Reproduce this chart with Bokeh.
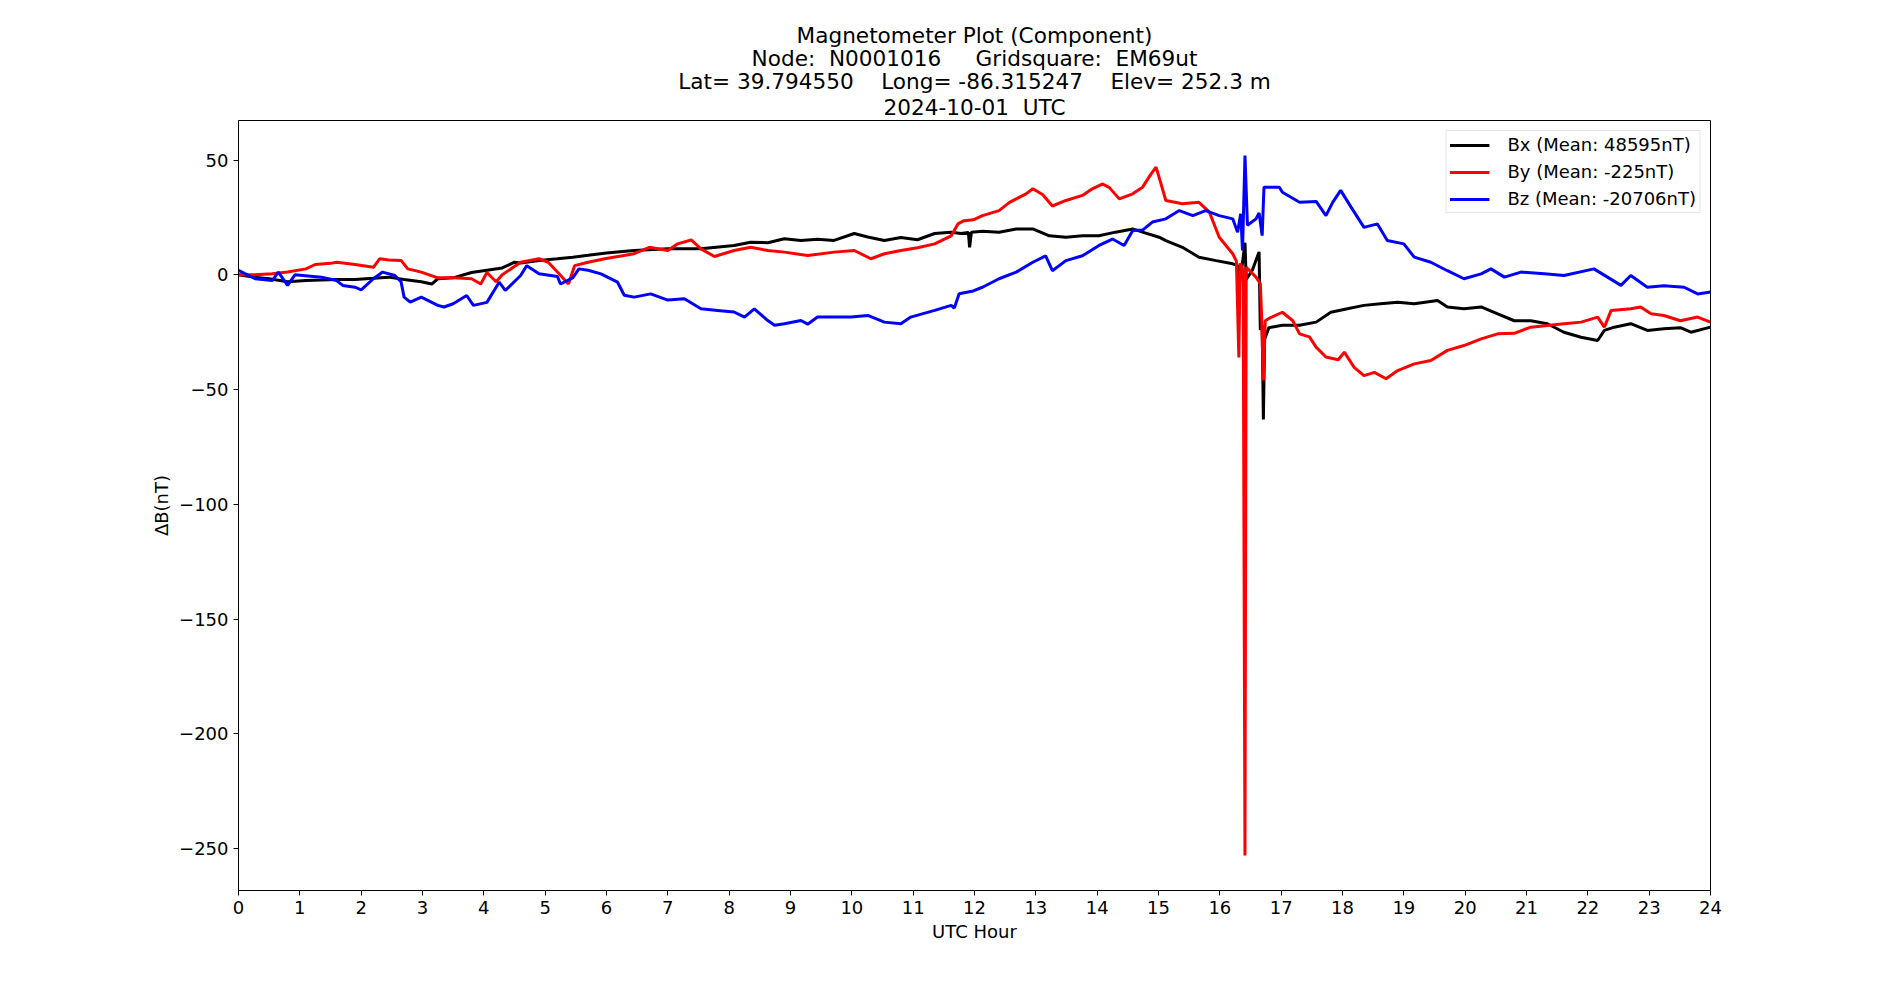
from bokeh.plotting import figure
from bokeh.models import FixedTicker, Range1d, Legend, LegendItem, Title
from bokeh.embed import file_html
from bokeh.resources import INLINE

FONT = "DejaVu Sans"
NB = "\u00a0"  # keeps runs of spaces in the title lines

# --- data: magnetometer deltas (nT) against UTC hour -------------------------
bx_hour = [0.0, 0.25, 0.5, 0.8, 1.1, 1.35, 1.6, 1.9, 2.2, 2.45, 2.7, 2.98, 3.15, 3.25, 3.5, 3.8,
           4.05, 4.3, 4.5, 4.6, 4.9, 5.2, 5.45, 5.7, 6.0, 6.45, 7.0, 7.54, 8.08, 8.35, 8.63, 8.9,
           9.17, 9.44, 9.71, 10.04, 10.26, 10.53, 10.8, 11.07, 11.35, 11.62, 11.78, 11.9, 11.92,
           11.95, 12.13, 12.4, 12.68, 12.95, 13.22, 13.49, 13.76, 14.03, 14.3, 14.58, 14.74,
           15.01, 15.12, 15.39, 15.66, 15.94, 16.21, 16.29, 16.32, 16.36, 16.41, 16.43, 16.53,
           16.64, 16.66, 16.69, 16.71, 16.73, 16.8, 17.02, 17.3, 17.57, 17.81, 18.08, 18.35,
           18.62, 18.9, 19.17, 19.55, 19.71, 19.98, 20.26, 20.53, 20.8, 21.07, 21.34, 21.61,
           21.89, 22.16, 22.27, 22.43, 22.7, 22.97, 23.24, 23.51, 23.68, 24.0]
bx_val = [0, -1, -1.7, -3, -2.5, -2.3, -2, -2, -1.5, -1, -2, -3, -4, -1.7, -1.3, 1,
          2, 3, 5.5, 5.2, 6.2, 7, 7.7, 8.5, 9.5, 10.6, 11.4, 11.4, 12.8, 14.2, 14, 15.7,
          15, 15.5, 15, 18, 16.5, 15, 16.3, 15.3, 18, 18.6, 18, 18.5, 12,
          18.6, 19, 18.6, 20, 20, 17, 16.4, 17, 17, 18.6, 20, 18.6,
          16.4, 14.9, 12, 7.7, 6.2, 4.8, 4, -3.9, 3.3, 14, -2, 2,
          10, -24, -22, -63, -28, -23, -22, -22, -20.6, -16.3, -14.8, -13.3,
          -12.6, -11.9, -12.6, -11.2, -14, -14.8, -14, -17, -20, -20, -21.3, -25,
          -27.2, -28.6, -24.2, -22.8, -21.3, -24.2, -23.5, -23, -25, -22.8]

by_hour = [0.0, 0.27, 0.55, 0.8, 1.1, 1.25, 1.5, 1.6, 1.9, 2.2, 2.3, 2.45, 2.65, 2.76, 2.98,
           3.25, 3.5, 3.8, 3.95, 4.05, 4.2, 4.3, 4.6, 4.9, 5.05, 5.2, 5.38, 5.48, 5.7, 5.97,
           6.45, 6.7, 7.0, 7.16, 7.38, 7.54, 7.76, 8.08, 8.35, 8.63, 8.9, 9.28, 9.71, 10.04,
           10.31, 10.53, 10.8, 11.07, 11.35, 11.62, 11.73, 11.83, 11.98, 12.13, 12.4, 12.57,
           12.84, 12.95, 13.11, 13.27, 13.49, 13.76, 13.92, 14.09, 14.2, 14.36, 14.58, 14.74,
           14.88, 14.96, 15.01, 15.12, 15.39, 15.66, 15.83, 15.99, 16.21, 16.27, 16.31, 16.33,
           16.38, 16.41, 16.43, 16.59, 16.66, 16.68, 16.71, 16.74, 16.8, 17.02, 17.19, 17.3,
           17.46, 17.57, 17.73, 17.93, 18.03, 18.19, 18.35, 18.52, 18.71, 18.9, 19.17, 19.44,
           19.71, 19.98, 20.26, 20.53, 20.8, 21.07, 21.34, 21.61, 21.89, 22.16, 22.27, 22.38,
           22.7, 22.86, 23.03, 23.24, 23.51, 23.79, 24.0]
by_val = [0, 0, 0.5, 1.2, 2.6, 4.5, 5, 5.5, 4.5, 3.3, 7, 6.5, 6.3, 2.6, 1.2,
          -1.3, -1.3, -1.7, -4, 1, -3, 0, 5.5, 7, 5.5, 1.2, -4, 4, 5.5, 7,
          9.2, 12, 10.6, 13.5, 15.2, 11.3, 8, 10.6, 12, 10.6, 9.9, 8.4, 9.9, 10.6,
          7, 9.2, 10.6, 11.8, 13.5, 17, 22.2, 23.6, 24, 25.8, 28, 31.6,
          35.3, 37.5, 35, 30, 32.4, 34.6, 37.5, 39.6, 38, 33.1, 35.3, 38.2,
          44, 46.9, 42.5, 32.4, 31, 31.6, 27.3, 16.4, 9.2, 6, -36, 5,
          2, -253, 3.3, -1, -3.9, -17, -46, -20, -19, -16.3, -20, -25.7,
          -27, -31.5, -35.8, -37, -33.7, -40.3, -43.9, -42.5, -45.3, -41.7, -38.8, -37.3,
          -32.9, -30.8, -27.9, -25.7, -25.5, -22.8, -22.1, -21.3, -20.6, -18.4, -22.8, -15.5,
          -14.8, -14, -17, -17.7, -20, -18.4, -20.6]

bz_hour = [0.0, 0.27, 0.55, 0.65, 0.8, 0.92, 1.35, 1.6, 1.7, 1.9, 2.0, 2.2, 2.35, 2.55, 2.65,
           2.7, 2.8, 2.98, 3.25, 3.35, 3.5, 3.72, 3.83, 4.05, 4.25, 4.35, 4.6, 4.7, 4.9, 5.2,
           5.25, 5.45, 5.55, 5.7, 5.91, 6.18, 6.29, 6.45, 6.72, 7.0, 7.27, 7.54, 7.81, 8.08,
           8.25, 8.41, 8.63, 8.74, 8.9, 9.17, 9.28, 9.44, 9.71, 9.99, 10.26, 10.53, 10.8, 10.96,
           11.35, 11.62, 11.67, 11.75, 11.98, 12.13, 12.4, 12.68, 12.95, 13.16, 13.27, 13.49,
           13.76, 14.03, 14.25, 14.44, 14.58, 14.74, 14.9, 15.12, 15.34, 15.56, 15.77, 15.99,
           16.21, 16.29, 16.34, 16.37, 16.41, 16.45, 16.59, 16.64, 16.69, 16.72, 16.97, 17.02,
           17.3, 17.57, 17.73, 17.84, 17.97, 18.14, 18.35, 18.57, 18.73, 19.0, 19.17, 19.44,
           19.71, 19.98, 20.26, 20.42, 20.64, 20.91, 21.29, 21.61, 22.1, 22.32, 22.54, 22.7,
           22.97, 23.24, 23.57, 23.79, 24.0]
bz_val = [2, -1.7, -2.5, 1.2, -4.6, 0, -1, -2.5, -4.6, -5.4, -6.5, -1.7, 1.2, -0.3, -3,
          -9.7, -11.9, -9.7, -13.3, -14, -12.6, -9, -13.3, -12, -3.2, -6.8, -0.3, 4, 0.5, -0.7,
          -4, -1.3, 2.6, 2, 0.4, -3.2, -8.9, -9.7, -8.3, -11, -10.4, -14.8, -15.5, -16.2,
          -18.4, -14.8, -19.9, -22, -21.3, -19.9, -21.5, -18.4, -18.4, -18.4, -17.7, -20.6, -21.3, -18.4,
          -15.5, -13.3, -14.5, -8.2, -7, -5.4, -1.7, 1.2, 5.5, 8.3, 1.8, 6.2,
          8.3, 12.8, 15.6, 12.8, 19.3, 19.5, 23, 24.4, 28, 25.8, 28, 25.8,
          24.4, 18.6, 26.6, 10.6, 52, 21.6, 24.4, 27, 17.1, 38.2, 38.2, 36,
          31.6, 32, 25.8, 31.6, 36.8, 29.5, 20.7, 22.2, 15, 13.5, 7.7, 5.5,
          1.8, -1.7, 0.4, 2.6, -1, 1.2, 0.5, -0.3, 2.6, -1, -4.6, -0.3,
          -5.4, -4.8, -5.4, -8.3, -7.5]

series_labels = ["Bx (Mean: 48595nT)", "By (Mean: -225nT)", "Bz (Mean: -20706nT)"]
series_colors = ["black", "red", "blue"]

title_lines = [
    "Magnetometer Plot (Component)",
    "Node:  N0001016     Gridsquare:  EM69ut",
    "Lat= 39.794550    Long= -86.315247    Elev= 252.3 m",
    "2024-10-01  UTC",
]

x_ticks = list(range(0, 25))
y_ticks = [-250, -200, -150, -100, -50, 0, 50]

# --- ranges: full day on x, 5% padding around the data on y -----------------
all_vals = bx_val + by_val + bz_val
lo, hi = min(all_vals), max(all_vals)
pad = 0.05 * (hi - lo)

p = figure(width=1900, height=1000, output_backend="svg", toolbar_location=None,
           x_range=Range1d(0, 24), y_range=Range1d(lo - pad, hi + pad),
           min_border_left=238, min_border_right=190,
           min_border_top=120, min_border_bottom=110,
           background_fill_color="white", border_fill_color="white")

p.grid.visible = False
p.outline_line_color = "black"
p.outline_line_width = 1
p.outline_line_alpha = 1


def style_title(t, standoff=-4):
    t.align = "center"
    t.text_font = FONT
    t.text_font_size = "21.6px"
    t.text_font_style = "normal"
    t.text_color = "black"
    t.standoff = standoff
    t.offset = 0


def spaced(s):
    return s.replace("  ", NB + NB)


# title block: the plot title is the outermost line, extra lines stack inward
p.title.text = spaced(title_lines[0])
style_title(p.title)
for i, line in enumerate([title_lines[3], title_lines[2], title_lines[1]]):
    t = Title(text=spaced(line))
    style_title(t, standoff=2 if i == 0 else -4)
    p.add_layout(t, "above")

# data lines
renderers = []
for hrs, vals, col in [(bx_hour, bx_val, series_colors[0]),
                       (by_hour, by_val, series_colors[1]),
                       (bz_hour, bz_val, series_colors[2])]:
    renderers.append(p.line(hrs, vals, line_color=col, line_width=3))

legend = Legend(items=[LegendItem(label=lab, renderers=[r])
                       for lab, r in zip(series_labels, renderers)],
                location="top_right")
legend.label_text_font = FONT
legend.label_text_font_size = "18px"
legend.label_text_color = "black"
legend.glyph_width = 40
legend.glyph_height = 20
legend.label_height = 20
legend.label_standoff = 18
legend.spacing = 6
legend.padding = 3
legend.margin = 10
legend.border_line_color = "#cccccc"
legend.border_line_width = 1
legend.background_fill_alpha = 0.8
p.add_layout(legend)

# axes
p.xaxis.ticker = FixedTicker(ticks=x_ticks)
p.yaxis.ticker = FixedTicker(ticks=y_ticks)
p.yaxis.major_label_overrides = {v: str(v).replace("-", "\u2212") for v in y_ticks}
p.xaxis.axis_label = "UTC Hour"
p.yaxis.axis_label = "\u0394B(nT)"
for ax in (p.xaxis, p.yaxis):
    ax.axis_line_color = "black"
    ax.axis_line_width = 1
    ax.major_tick_line_color = "black"
    ax.major_tick_line_width = 1
    ax.major_tick_out = 5
    ax.major_tick_in = 0
    ax.minor_tick_line_color = None
    ax.major_label_text_font = FONT
    ax.major_label_text_font_size = "18px"
    ax.major_label_text_color = "black"
    ax.major_label_standoff = 5
    ax.axis_label_text_font = FONT
    ax.axis_label_text_font_size = "18px"
    ax.axis_label_text_font_style = "normal"
    ax.axis_label_text_color = "black"
p.xaxis.axis_label_standoff = 4
p.yaxis.axis_label_standoff = 4

open("out.html", "w").write(file_html(p, INLINE, "Magnetometer Plot"))
